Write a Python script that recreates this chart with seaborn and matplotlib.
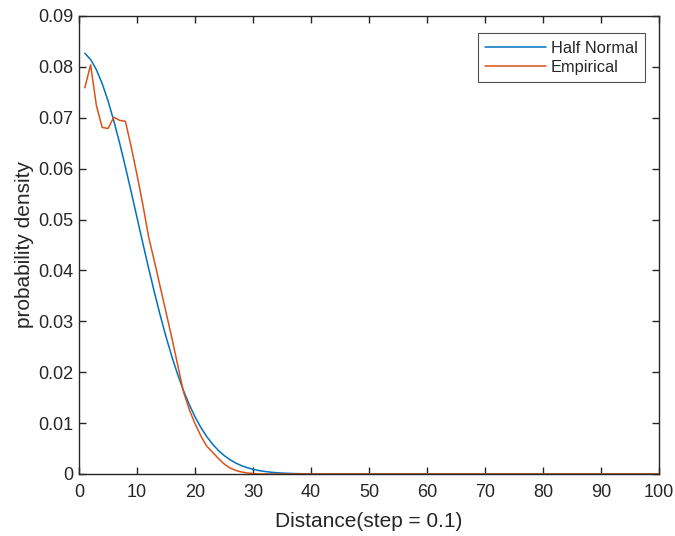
import numpy as np
import pandas as pd
import matplotlib
matplotlib.use("Agg")
import matplotlib.pyplot as plt
import seaborn as sns

# Distance index (step = 0.1)
distance = list(range(1, 101))

half_normal_head = [
    0.08269, 0.08145, 0.07944, 0.07671, 0.07334, 0.06941, 0.06504, 0.06034,
    0.05543, 0.05040, 0.04538, 0.04045, 0.03570, 0.03119, 0.02698, 0.02311,
    0.01959, 0.01645, 0.01367, 0.01125, 0.00916, 0.00739, 0.00590, 0.00466,
    0.00365, 0.00283, 0.00217, 0.00165, 0.00124, 0.00092, 0.00068, 0.00050,
    0.00036, 0.00026, 0.00018, 0.00013, 0.00009, 0.00006, 0.00004, 0.00003,
]
half_normal = half_normal_head + [0.0] * (100 - len(half_normal_head))

empirical_head = [
    0.0759, 0.0804, 0.0724, 0.0681, 0.0679, 0.0701, 0.0695, 0.0693,
    0.0643, 0.0588, 0.0530, 0.0466, 0.0418, 0.0368, 0.0318, 0.0268,
    0.0215, 0.0162, 0.0127, 0.0099, 0.0075, 0.0055, 0.0043, 0.0031,
    0.0020, 0.0012, 0.0007, 0.0004, 0.0002, 0.0001,
]
empirical = empirical_head + [0.0] * (100 - len(empirical_head))

series_names = ["Half Normal", "Empirical"]
colors = ["#0072BD", "#D95319"]

x_ticks = list(range(0, 101, 10))
y_ticks = [0, 0.01, 0.02, 0.03, 0.04, 0.05, 0.06, 0.07, 0.08, 0.09]
y_tick_labels = ["0", "0.01", "0.02", "0.03", "0.04", "0.05", "0.06", "0.07", "0.08", "0.09"]

df = pd.DataFrame({
    "distance": distance * 2,
    "density": half_normal + empirical,
    "series": [series_names[0]] * 100 + [series_names[1]] * 100,
})

sns.set_theme(style="white")
plt.rcParams["font.family"] = ["Liberation Sans", "DejaVu Sans"]

fig = plt.figure(figsize=(6.75, 5.36), dpi=100)
ax = fig.add_axes([79 / 675, 62 / 536, 580 / 675, 458 / 536])

sns.lineplot(data=df, x="distance", y="density", hue="series",
             palette=colors, hue_order=series_names, linewidth=1.1, ax=ax)

ax.set_xlim(0, 100)
ax.set_ylim(0, 0.09)
ax.set_xticks(x_ticks)
ax.set_xticklabels([str(t) for t in x_ticks])
ax.set_yticks(y_ticks)
ax.set_yticklabels(y_tick_labels)

dark = "#262626"
for s in ax.spines.values():
    s.set_visible(True)
    s.set_color(dark)
    s.set_linewidth(1.0)

ax.tick_params(axis="both", direction="in", length=5, width=1.0, color=dark,
               labelcolor=dark, labelsize=13, top=True, right=True,
               bottom=True, left=True)
ax.tick_params(axis="x", pad=7)
ax.tick_params(axis="y", pad=4)

ax.set_xlabel("Distance(step = 0.1)", fontsize=15, color=dark, labelpad=8)
ax.set_ylabel("probability density", fontsize=15, color=dark, labelpad=3)

leg = ax.legend(loc="upper right", bbox_to_anchor=(0.976, 0.962), fontsize=11.8,
                frameon=True, fancybox=False, borderpad=0.45, handlelength=3.7,
                handletextpad=0.3, labelspacing=0.25, borderaxespad=0.0)
leg.get_frame().set_edgecolor(dark)
leg.get_frame().set_linewidth(0.8)
for t in leg.get_texts():
    t.set_color(dark)

fig.savefig("out.png", dpi=100, facecolor="white")
